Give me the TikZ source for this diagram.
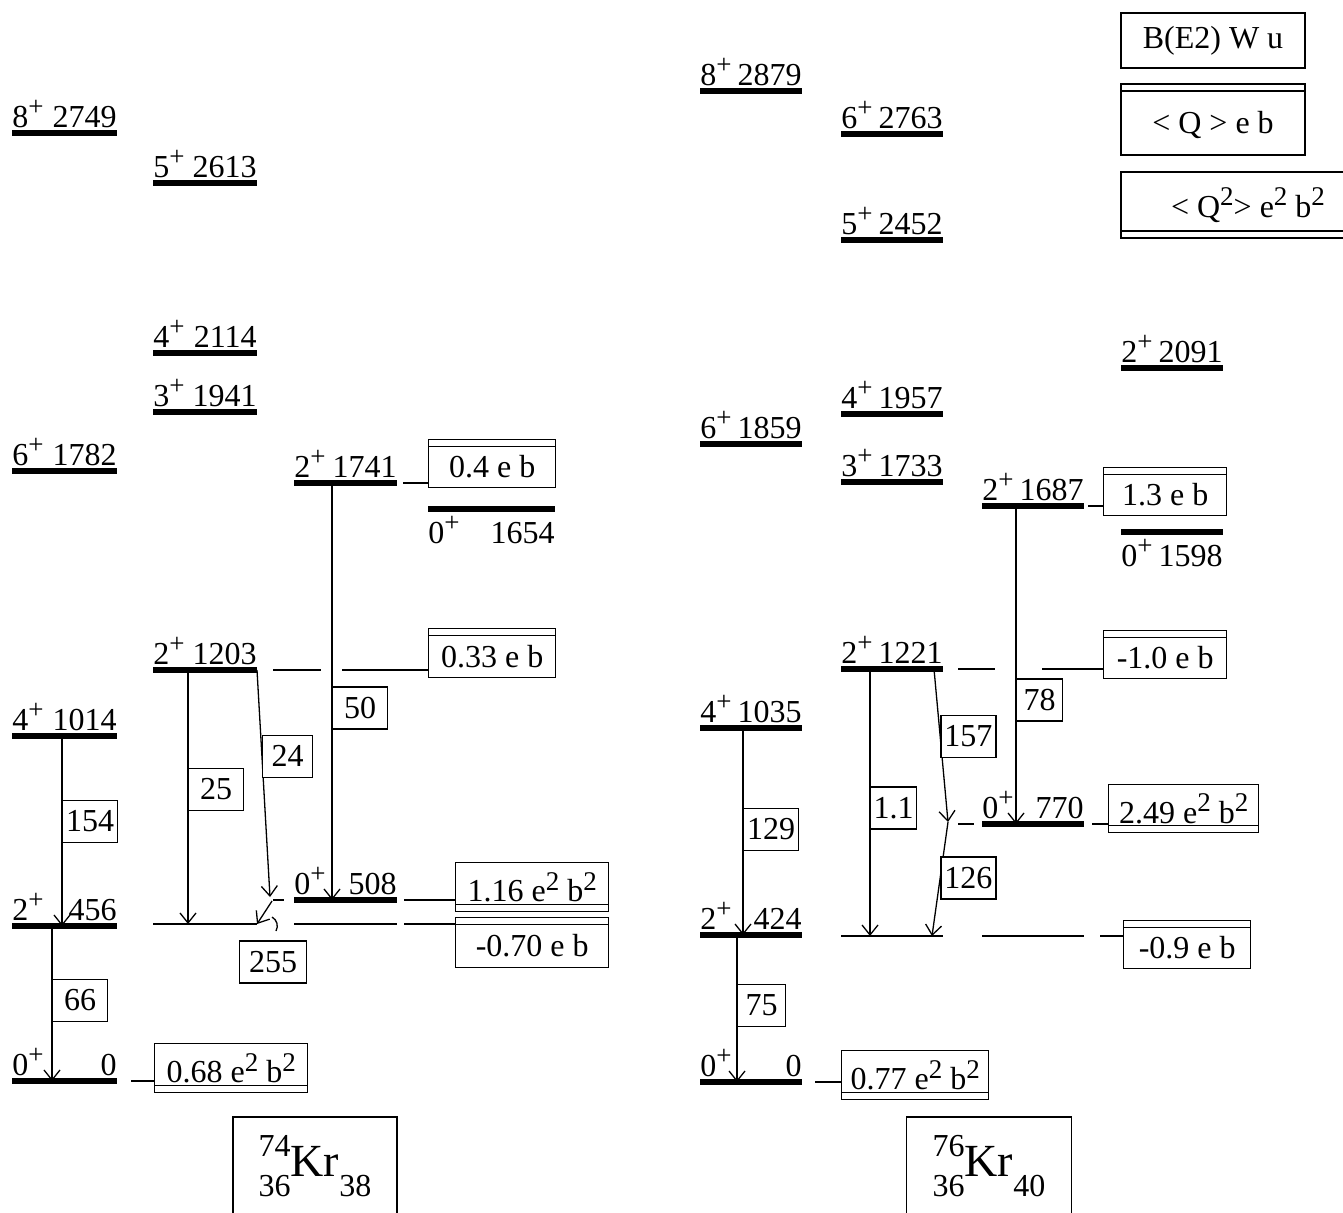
\documentclass[tikz,border=0pt]{standalone}
\usepackage{fontspec}
\setmainfont{Liberation Serif}
\usetikzlibrary{arrows.meta,calc}
\newcommand{\hi}[1]{\raisebox{0.36em}{\fontsize{13.5}{13.5}\selectfont #1}}
\newcommand{\nucl}[3]{\rlap{\raisebox{10pt}{#1}}\raisebox{-10pt}{#2}{\fontsize{23}{23}\selectfont Kr}\raisebox{-10pt}{#3}}

\begin{document}
\begin{tikzpicture}[
    x=0.5pt, y=-0.5pt,
    font=\fontsize{16}{19}\selectfont,
    lvl/.style={line width=3pt},
    band/.style={line width=0.65pt},
    link/.style={line width=0.65pt},
    gam/.style={line width=0.65pt, -{Straight Barb[length=5pt,width=8pt]}},
    be/.style={draw, line width=0.7pt, fill=white, anchor=west, inner sep=0pt, minimum width=27.5pt, minimum height=21pt},
    mom/.style={draw, line width=0.7pt, anchor=north west, inner sep=0pt, minimum height=24pt},
    qtop/.style={mom, text height=14pt, text depth=0pt,
      path picture={\draw[line width=0.7pt] ([yshift=-3.5pt]path picture bounding box.north west) -- ([yshift=-3.5pt]path picture bounding box.north east);}},
    qbot/.style={mom,
      path picture={\draw[line width=0.7pt] ([yshift=3.5pt]path picture bounding box.south west) -- ([yshift=3.5pt]path picture bounding box.south east);}},
    spin/.style={anchor=base west, inner sep=0pt, yshift=3pt},
    ener/.style={anchor=base east, inner sep=0pt, yshift=3pt},
    nbox/.style={draw, line width=0.7pt, inner sep=0pt, minimum width=82pt, minimum height=49pt},
  ]
  \useasboundingbox (0,0) rectangle (1343,1212);

  % Levels (74Kr left, 76Kr right)
  \foreach \n/\xa/\xb/\y/\j/\e in {
      l2749/12/117/133/8/2749, l2613/153/257/183/5/2613, l2114/153/257/353/4/2114,
      l1941/153/257/412/3/1941, l1782/12/117/471/6/1782, l1741/294/397/483/2/1741,
      l1203/153/257/670/2/1203, l1014/12/117/736/4/1014, l508/294/397/900/0/508,
      l456/12/117/926/2/456, l0/12/117/1081/0/0,
      r2879/700/802/91/8/2879, r2763/841/943/134/6/2763, r2452/841/943/240/5/2452,
      r2091/1121/1223/368/2/2091, r1957/841/943/414/4/1957, r1859/700/802/444/6/1859,
      r1733/841/943/482/3/1733, r1687/982/1084/506/2/1687, r1221/841/943/669/2/1221,
      r1035/700/802/728/4/1035, r770/982/1084/824/0/770, r424/700/802/935/2/424,
      r0/700/802/1082/0/0}{
    \draw[lvl] (\xa,\y) coordinate (\n w) -- (\xb,\y) coordinate (\n e);
    \node[spin] (\n j) at (\n w) {\j\hi{+}};
    \node[ener] (\n n) at (\n e) {\e};
  }
  % 0+ levels labelled below the bar
  \foreach \n/\xa/\xb/\y/\e in {l1654/428/555/509/1654, r1598/1121/1223/532/1598}{
    \draw[lvl] (\xa,\y) coordinate (\n w) -- (\xb,\y) coordinate (\n e);
    \node[spin, yshift=-20pt] (\n j) at (\n w) {0\hi{+}};
    \node[ener, yshift=-20pt] (\n n) at (\n e) {\e};
  }
  % Band heads repeated as thin lines
  \foreach \n/\xa/\xb/\y in {lb/153/257/924, lc/294/397/924, rb/841/943/936, rc/982/1084/936}
    \draw[band] (\xa,\y) coordinate (\n w) -- (\xb,\y) coordinate (\n e);

  % Transitions 74Kr
  \draw[gam] ($(l1014w)+(50,0)$) -- node[be, pos=0.45] (b154) {154} ($(l456w)+(50,0)$);
  \draw[gam] ($(l456w)+(40,0)$) -- node[be, pos=0.48] (b66) {66} ($(l0w)+(40,0)$);
  \draw[gam] ($(l1203w)+(35,0)$) -- node[be, pos=0.47] (b25) {25} ($(lbw)+(35,0)$);
  \coordinate (t24) at (270,897);
  \draw[gam] (l1203e) -- node[be, pos=0.38, minimum width=25pt] (b24) {24} (t24);
  \draw[gam] ($(l1741w)+(38,0)$) -- node[be, pos=0.54] (b50) {50} ($(l508w)+(38,0)$);
  \coordinate (t255) at (272,901);
  \draw[gam] (t255) -- (lbe);
  \draw[link] ($(l508w)+(-21,0)$) -- ($(l508w)+(-10,0)$);
  \coordinate (hk1) at (272,917);
  \coordinate (hk2) at (276,931);
  \draw[link] (hk1) to[bend left=45] (hk2);
  \node[be, anchor=center, minimum width=33.5pt] (b255) at (273,962) {255};

  % Transitions 76Kr
  \draw[gam] ($(r1035w)+(43,0)$) -- node[be, pos=0.49] (b129) {129} ($(r424w)+(43,0)$);
  \draw[gam] ($(r424w)+(37,0)$) -- node[be, pos=0.48, minimum width=24pt] (b75) {75} ($(r0w)+(37,0)$);
  \draw[gam] ($(r1221w)+(29,0)$) -- node[be, pos=0.52, minimum width=23pt] (b11) {1.1} ($(rbw)+(29,0)$);
  \coordinate (t157) at (948,822);
  \draw[gam] ($(r1221e)+(-9,0)$) -- node[be, pos=0.44] (b157) {157} (t157);
  \draw[gam] (t157) -- node[be, pos=0.49] (b126) {126} ($(rbe)+(-11,0)$);
  \draw[gam] ($(r1687w)+(34,0)$) -- node[be, pos=0.61, minimum width=23pt] (b78) {78} ($(r770w)+(34,0)$);
  \draw[link] ($(r770w)+(-24,0)$) -- ($(r770w)+(-8,0)$);

  % Moments 74Kr
  \node[qtop, minimum width=63.5pt] (q1741) at (428,439) {0.4 e b};
  \node[qtop, minimum width=63.5pt, minimum height=24.5pt] (q1203) at (428,628) {0.33 e b};
  \node[qbot, minimum width=76.5pt, minimum height=24.5pt] (q508) at (455,862) {1.16 e\hi{2} b\hi{2}};
  \node[qtop, minimum width=76.5pt, minimum height=25pt] (q456) at (455,917) {-0.70 e b};
  \node[qbot, minimum width=76.5pt, minimum height=24.5pt] (q0) at (154,1043) {0.68 e\hi{2} b\hi{2}};
  \draw[link] ($(l1741e)+(6,0)$) -- (l1741e -| q1741.west);
  \draw[link] ($(l1203e)+(16,0)$) -- ($(l1203e)+(64,0)$);
  \draw[link] ($(l1203e)+(85,0)$) -- (l1203e -| q1203.west);
  \draw[link] ($(l508e)+(7,0)$) -- (l508e -| q508.west);
  \draw[link] ($(lce)+(7,0)$) -- (lce -| q456.west);
  \draw[link] ($(l0e)+(14,0)$) -- (l0e -| q0.west);

  % Moments 76Kr
  \node[qtop, minimum width=61.5pt] (s1687) at (1103,467) {1.3 e b};
  \node[qtop, minimum width=61.5pt] (s1221) at (1103,630) {-1.0 e b};
  \node[qbot, minimum width=75pt] (s770) at (1108,784) {2.49 e\hi{2} b\hi{2}};
  \node[qtop, minimum width=63.5pt] (s424) at (1123,920) {-0.9 e b};
  \node[qbot, minimum width=73.5pt, minimum height=24.5pt] (s0) at (841,1050) {0.77 e\hi{2} b\hi{2}};
  \draw[link] ($(r1687e)+(4,0)$) -- (r1687e -| s1687.west);
  \draw[link] ($(r1221e)+(15,0)$) -- ($(r1221e)+(52,0)$);
  \draw[link] ($(r1221e)+(99,0)$) -- (r1221e -| s1221.west);
  \draw[link] ($(r770e)+(8,0)$) -- (r770e -| s770.west);
  \draw[link] ($(rce)+(16,0)$) -- (rce -| s424.west);
  \draw[link] ($(r0e)+(13,0)$) -- (r0e -| s0.west);

  % Nuclei
  \node[nbox] (kr74) at (315,1166) {\nucl{74}{36}{38}};
  \node[nbox, minimum width=82.5pt] (kr76) at (989,1166) {\nucl{76}{36}{40}};

  % Key
  \node[draw, line width=0.7pt, inner sep=0pt, minimum width=92pt, minimum height=27.5pt] (keyBE) at (1213,40.5) {B(E2) W u};
  \node[qtop, anchor=center, minimum width=92pt, minimum height=35.5pt] (keyQ) at (1213,119.5) {< Q > e b};
  \node[qbot, anchor=center, minimum width=127pt, minimum height=33pt] (keyQQ) at (1248,205) {< Q\hi{2}> e\hi{2} b\hi{2}};
\end{tikzpicture}
\end{document}
